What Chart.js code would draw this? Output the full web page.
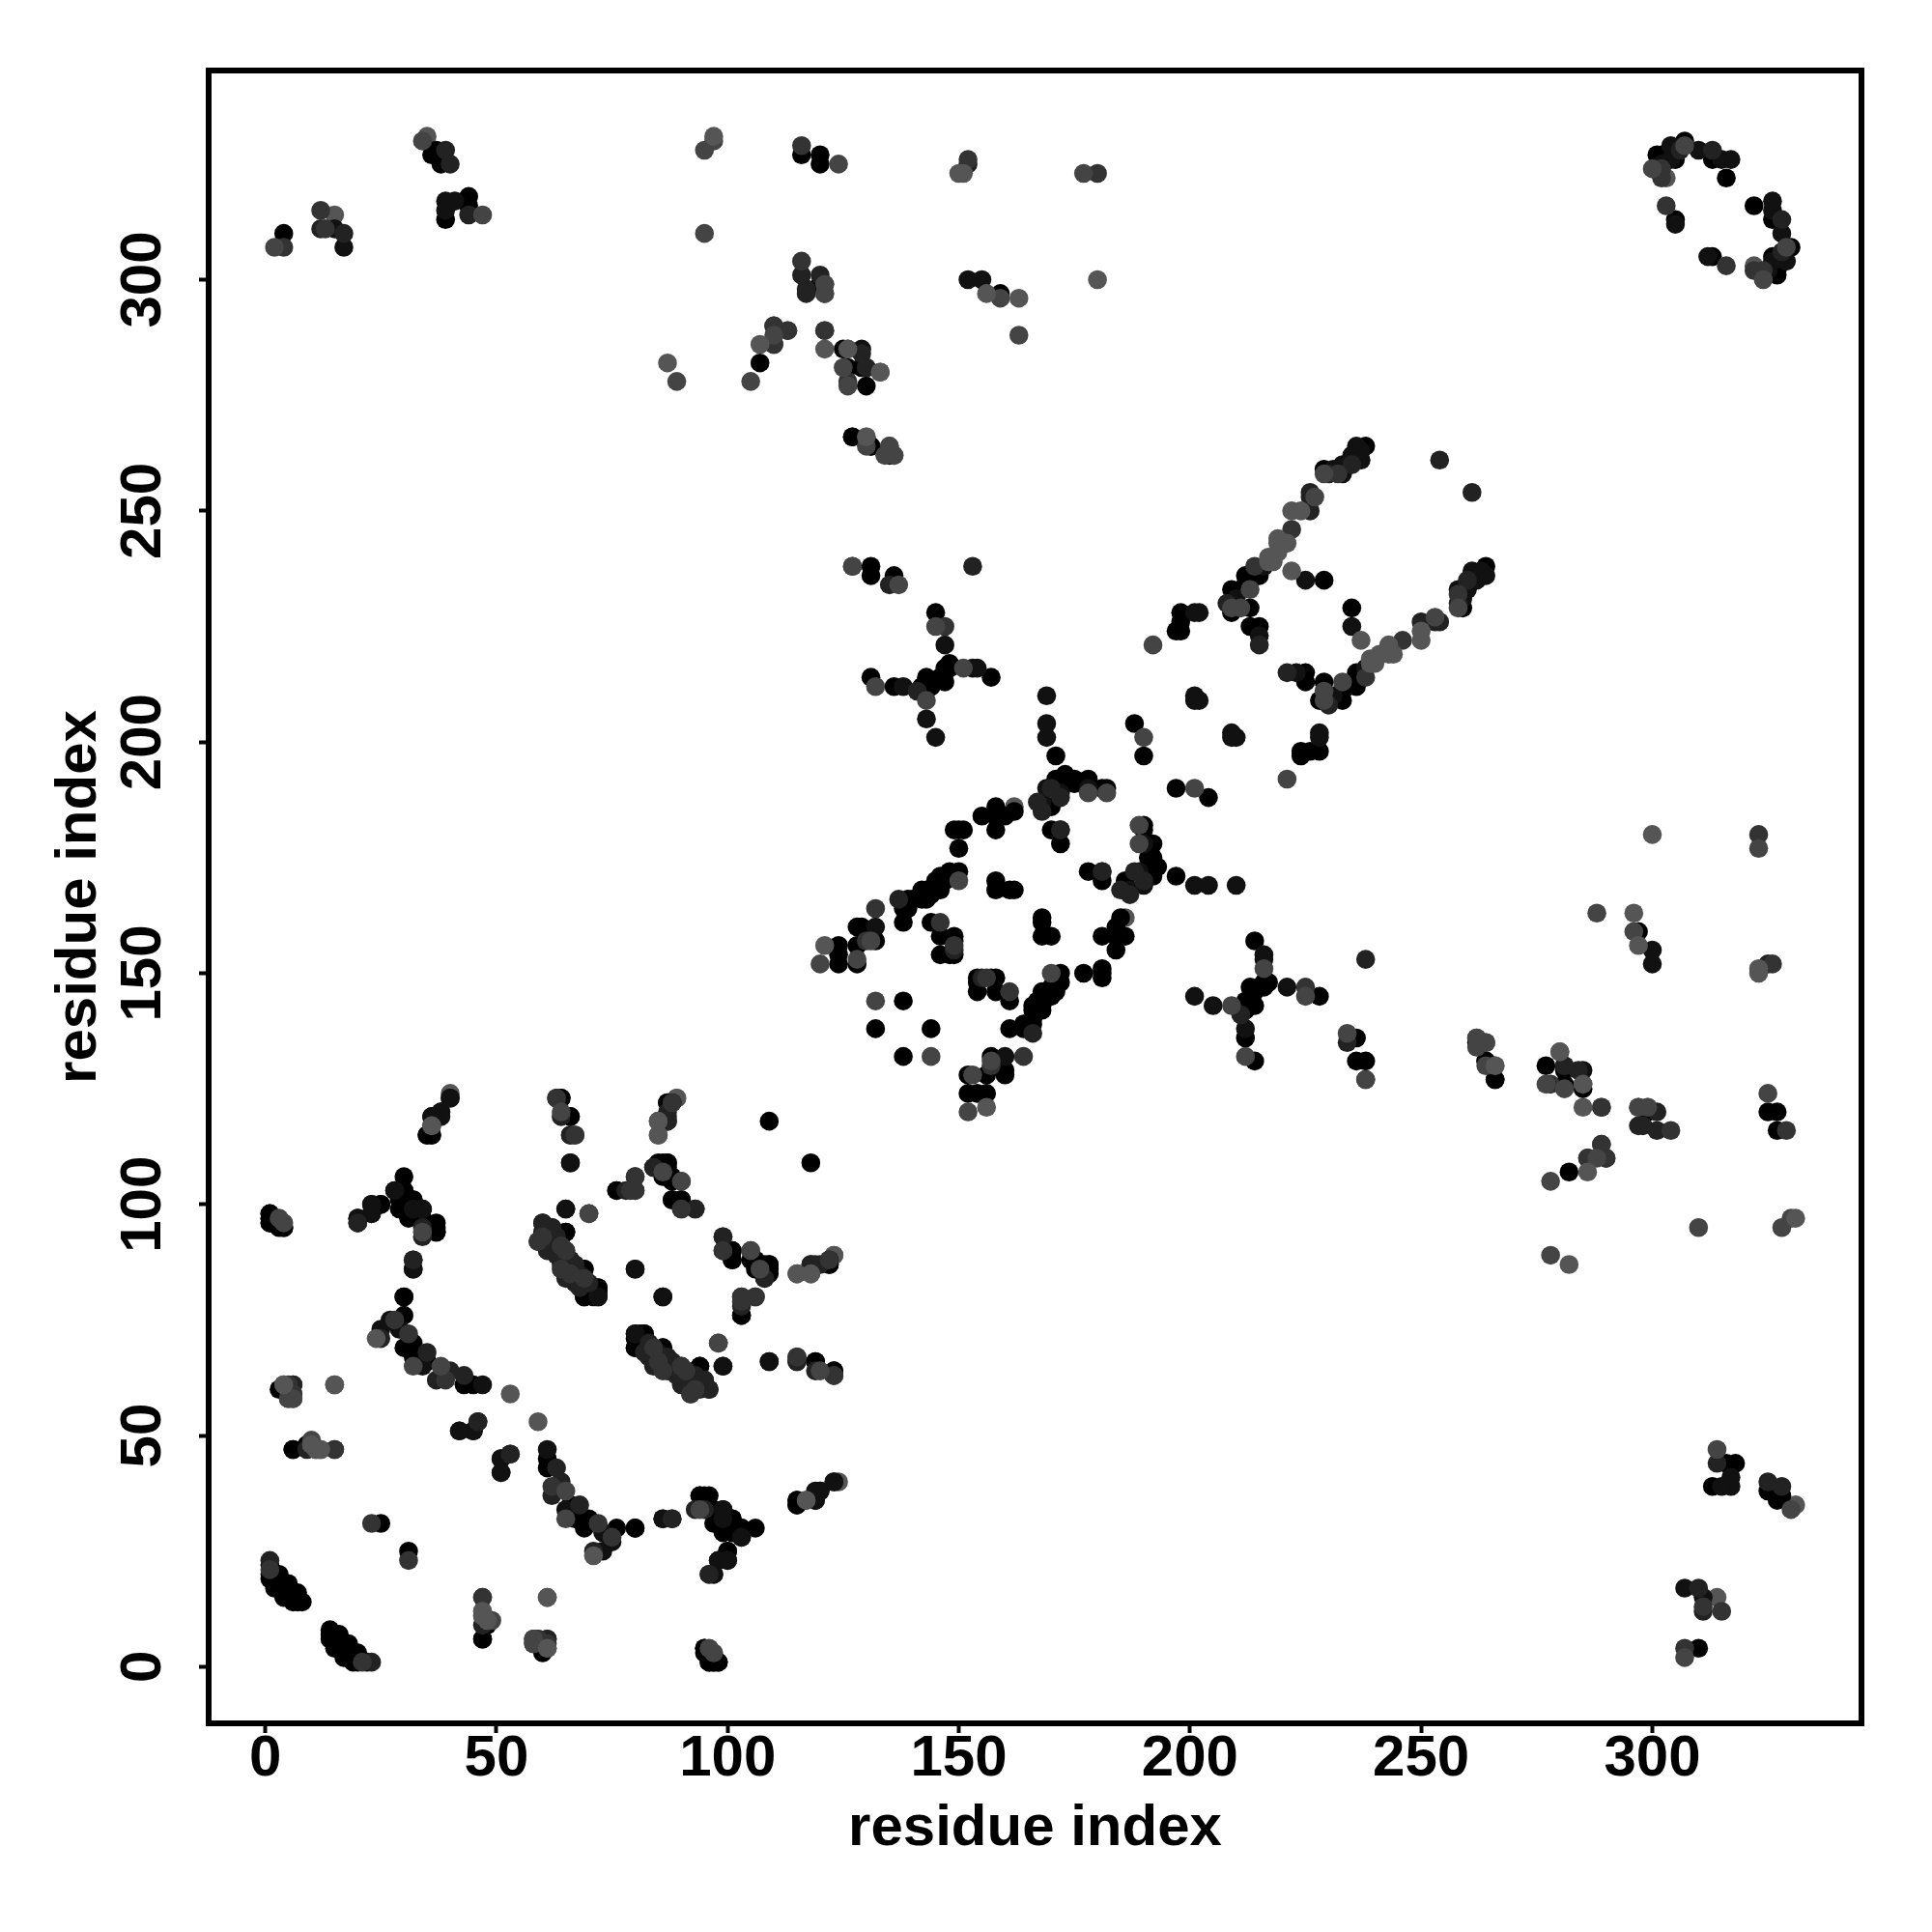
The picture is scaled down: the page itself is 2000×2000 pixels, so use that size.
<!DOCTYPE html>
<html>
<head>
<meta charset="utf-8">
<style>html,body{margin:0;padding:0;background:#fff}canvas{display:block}</style>
<script src="https://cdn.jsdelivr.net/npm/chart.js@4"></script>
</head>
<body>
<canvas id="c" width="2000" height="2000"></canvas>
<script>
const tickValues = [0, 50, 100, 150, 200, 250, 300];
const axisLabel = "residue index";

const contacts555 = [[61,15],[15,61],[53,59],[24,71],[47,12],[47,11],[48,10],[61,4],[85,115],[115,85],[118,85],[117,36],[121,156],[130,266],[217,239],[217,240],[218,239],[219,241],[219,243],[219,244],[221,243],[222,250],[224,250],[222,237],[300,180],[280,133],[285,126],[285,121],[296,163],[297,156],[323,150],[323,151],[286,107],[282,87],[331,97]];
const contacts444 = [[38,65],[32,65],[34,94],[58,6],[58,5],[10,49],[11,47],[3,97],[4,96],[36,117],[70,98],[105,90],[107,86],[130,264],[135,264],[120,64],[120,152],[128,153],[131,157],[132,144],[150,170],[178,189],[182,189],[190,201],[192,221],[211,229],[209,143],[213,233],[227,253],[229,258],[209,229],[216,151],[225,145],[212,132],[234,137],[238,127],[262,136],[262,134],[277,126],[281,125],[288,163],[296,159],[323,177],[297,121],[299,121],[325,124],[288,110],[278,105],[278,89],[310,95],[328,95],[330,97],[2,307],[34,330],[47,314],[300,324],[307,329]];
const contacts333 = [[1,21],[23,31],[47,15],[59,6],[61,5],[4,61],[5,58],[15,47],[6,59],[28,75],[31,72],[39,62],[59,92],[66,85],[88,122],[80,106],[80,103],[79,103],[99,90],[67,115],[98,70],[115,67],[86,64],[93,60],[63,123],[130,157],[132,164],[146,161],[149,156],[222,246],[214,238],[232,258],[127,238],[225,147],[278,126],[289,121],[304,116],[329,116],[289,113],[286,110],[326,152],[323,180],[303,316],[302,322],[302,324],[4,307],[12,315],[13,311],[113,289],[110,286],[110,290],[121,289],[64,91],[65,90],[84,69],[90,65]];
const contacts222 = [[1,23],[43,63],[40,64],[37,62],[35,68],[25,71],[6,61],[6,58],[9,47],[20,96],[53,46],[46,53],[60,96],[60,94],[62,95],[63,93],[61,90],[62,91],[67,86],[67,83],[68,82],[64,119],[32,88],[84,108],[87,119],[87,118],[90,99],[93,99],[99,93],[103,80],[103,78],[106,80],[108,84],[120,87],[93,34],[95,34],[96,60],[92,59],[88,32],[115,66],[123,63],[61,6],[137,166],[149,155],[181,172],[170,190],[230,258],[226,250],[226,253],[226,254],[235,260],[254,261],[208,230],[215,221],[238,153],[234,135],[211,141],[281,130],[284,129],[301,120],[298,117],[301,116],[297,117],[290,110],[325,152],[306,328],[313,328],[12,311],[17,310],[39,328],[40,325],[44,314],[130,281],[87,67],[84,65],[167,187],[168,185],[172,188],[64,87],[66,88],[70,83],[63,89]];
const contacts111 = [[47,61],[27,75],[29,73],[34,65],[25,73],[51,45],[51,42],[42,51],[40,123],[38,120],[38,119],[66,115],[66,109],[28,103],[23,100],[23,98],[20,97],[65,99],[80,86],[72,80],[86,80],[118,87],[80,72],[99,65],[109,66],[123,40],[119,36],[99,34],[99,32],[96,20],[97,20],[100,23],[86,32],[132,160],[172,181],[178,190],[169,190],[172,189],[168,187],[169,201],[169,204],[169,210],[201,210],[202,209],[201,209],[202,228],[201,228],[210,231],[216,238],[231,259],[233,258],[233,260],[234,260],[235,262],[236,264],[237,261],[237,263],[225,235],[215,223],[216,154],[216,153],[221,147],[201,145],[205,143],[212,138],[300,155],[300,152],[285,129],[302,325],[304,329],[304,326],[305,328],[305,312],[310,328],[315,326],[317,326],[15,311],[17,307],[39,317],[41,317],[39,315],[85,68],[85,66],[88,65],[89,64],[91,63],[91,61],[92,61],[90,62],[65,87],[66,86]];
const contacts000 = [[1,22],[1,20],[1,19],[2,18],[2,17],[3,20],[3,19],[3,18],[4,18],[4,16],[4,15],[5,18],[5,17],[5,15],[6,16],[6,15],[6,14],[7,16],[7,15],[7,14],[8,14],[47,6],[48,9],[60,4],[95,4],[95,3],[96,1],[97,1],[98,1],[45,61],[43,61],[35,66],[32,70],[30,69],[30,76],[32,67],[30,80],[32,86],[3,60],[6,47],[25,31],[45,51],[36,119],[36,115],[35,115],[64,123],[66,119],[1,98],[1,97],[1,96],[4,95],[30,103],[32,101],[29,101],[34,99],[31,98],[34,97],[37,94],[37,95],[25,100],[76,103],[65,94],[69,86],[69,80],[72,82],[72,81],[71,80],[109,118],[87,122],[86,109],[87,109],[86,107],[87,107],[88,105],[88,101],[90,101],[101,90],[101,88],[106,88],[106,86],[108,87],[109,87],[109,85],[122,87],[122,88],[103,76],[80,69],[82,72],[82,69],[86,69],[94,65],[94,63],[95,62],[119,66],[123,64],[120,38],[115,36],[115,35],[94,37],[96,37],[101,32],[103,30],[106,30],[97,31],[99,29],[103,28],[100,25],[98,23],[80,30],[124,152],[124,154],[124,156],[128,152],[128,156],[128,160],[129,160],[132,157],[132,138],[138,144],[138,161],[138,164],[139,164],[139,166],[142,166],[143,166],[143,168],[146,168],[146,171],[148,172],[150,172],[140,166],[142,168],[144,167],[145,170],[147,170],[144,161],[146,158],[149,158],[146,154],[148,154],[149,154],[149,157],[150,177],[150,181],[149,181],[151,181],[155,184],[158,186],[158,181],[158,184],[160,184],[162,185],[158,170],[158,168],[161,168],[162,168],[170,181],[172,178],[170,186],[171,192],[172,191],[172,192],[173,193],[175,191],[175,192],[178,192],[181,190],[182,190],[171,197],[190,197],[188,204],[197,224],[198,224],[198,228],[198,226],[209,228],[209,233],[211,233],[212,234],[212,236],[213,235],[215,236],[215,237],[229,259],[238,264],[229,235],[213,229],[213,225],[215,225],[214,157],[216,148],[217,148],[216,147],[215,147],[213,147],[214,146],[212,142],[212,144],[214,143],[212,136],[214,131],[228,145],[236,136],[236,131],[238,131],[264,131],[266,127],[277,130],[281,126],[285,125],[299,120],[325,120],[327,120],[327,116],[282,107],[297,159],[127,266],[131,264],[135,262],[129,281],[301,327],[305,327],[307,330],[313,326],[316,322],[305,313],[302,327],[305,326],[4,310],[36,327],[38,325],[44,318],[44,316],[39,313],[37,328]];
const contactsTopGray = [[40,124],[89,123],[90,105],[123,89],[162,186],[303,322],[266,130],[264,135],[136,262],[35,331],[15,314],[126,285],[133,280],[85,118],[12,47],[121,299],[121,297]];

const bothWays = pairs => pairs.flatMap(([a, b]) => [{x: a, y: b}, {x: b, y: a}]);
const layers = [
  [contacts555, "#555555"], [contacts444, "#444444"], [contacts333, "#333333"],
  [contacts222, "#222222"], [contacts111, "#111111"], [contacts000, "#000000"],
  [contactsTopGray, "#555555"]
];
const labelFont = {family: "'Liberation Sans', Arial, sans-serif", weight: "bold"};
const frame = {
  id: "frame",
  afterDatasetsDraw(chart) {
    const a = chart.chartArea, g = chart.ctx;
    g.save(); g.strokeStyle = "#000"; g.lineWidth = 6;
    g.strokeRect(a.left, a.top, a.right - a.left, a.bottom - a.top);
    g.restore();
  }
};
const setTicks = s => { s.ticks = tickValues.map(v => ({value: v})); };
const gridOpts = {display: true, drawOnChartArea: false, drawTicks: true, tickLength: 10, tickWidth: 4, tickColor: "#000"};

new Chart(document.getElementById("c"), {
  type: "scatter",
  data: {datasets: layers.map(([pairs, colour], i) => ({
    label: "contacts " + i,
    data: bothWays(pairs),
    backgroundColor: colour,
    borderWidth: 0,
    pointRadius: 9.8,
    pointHoverRadius: 9.8
  }))},
  options: {
    responsive: false,
    animation: false,
    layout: {padding: {top: 73, right: 73, left: 0, bottom: 0}},
    plugins: {legend: {display: false}, tooltip: {enabled: false}},
    scales: {
      x: {
        type: "linear", min: -12.24, max: 345.24,
        afterBuildTicks: setTicks,
        afterFit: s => { s.height = 216; },
        border: {display: false},
        grid: gridOpts,
        ticks: {color: "#000", font: {...labelFont, size: 60}, padding: -9, maxRotation: 0, autoSkip: false},
        title: {display: true, text: axisLabel, color: "#000", font: {...labelFont, size: 60}, padding: {top: 0, bottom: 71}}
      },
      y: {
        type: "linear", min: -12.24, max: 345.24,
        afterBuildTicks: setTicks,
        afterFit: s => { s.width = 216; },
        border: {display: false},
        grid: gridOpts,
        ticks: {color: "#000", font: {...labelFont, size: 60}, padding: 6, minRotation: 90, maxRotation: 90, crossAlign: "center", autoSkip: false},
        title: {display: true, text: axisLabel, color: "#000", font: {...labelFont, size: 60}, padding: {top: 46, bottom: 0}}
      }
    }
  },
  plugins: [frame]
});
</script>
</body>
</html>
